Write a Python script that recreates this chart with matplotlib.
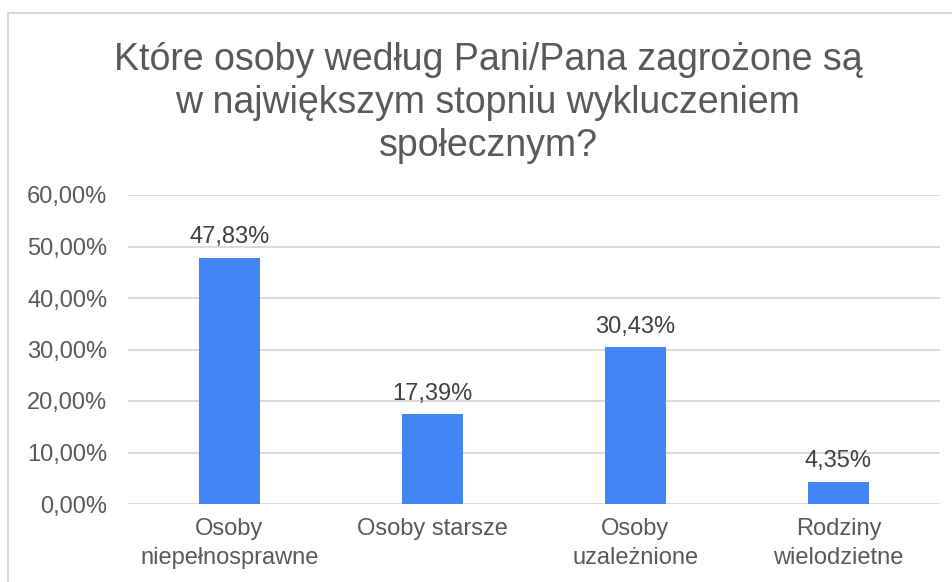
import matplotlib.pyplot as plt
from matplotlib.ticker import FuncFormatter
from matplotlib.lines import Line2D

plt.rcParams['font.family'] = ['Liberation Sans', 'DejaVu Sans']

categories = ['Osoby\nniepełnosprawne', 'Osoby starsze', 'Osoby\nuzależnione', 'Rodziny\nwielodzietne']
values = [47.83, 17.39, 30.43, 4.35]
yticks = [0, 10, 20, 30, 40, 50, 60]
title = 'Które osoby według Pani/Pana zagrożone są\nw największym stopniu wykluczeniem\nspołecznym?'

fig = plt.figure(figsize=(9.53, 5.82), dpi=100)
ax = fig.add_axes([128 / 953, 1 - 504 / 582, 812 / 953, 309 / 582])

x = range(len(categories))
ax.bar(x, values, width=0.305, color='#4285F4', zorder=3)
for i, v in enumerate(values):
    ax.annotate(f'{v:.2f}%'.replace('.', ','), (i, v), xytext=(0, 7),
                textcoords='offset points', ha='center', va='bottom',
                fontsize=17, color='#404040')

ax.set_xlim(-0.5, len(categories) - 0.5)
ax.set_ylim(0, 60)
ax.set_yticks(yticks)
ax.yaxis.set_major_formatter(FuncFormatter(lambda v, p: f'{v:.2f}%'.replace('.', ',')))
ax.set_xticks(list(x))
ax.set_xticklabels(categories, linespacing=1.4)
ax.tick_params(axis='both', length=0, labelsize=17, colors='#595959')
ax.tick_params(axis='y', pad=15)
ax.tick_params(axis='x', pad=10)
ax.grid(axis='y', color='#d9d9d9', linewidth=1.3, zorder=0)
for s in ax.spines.values():
    s.set_visible(False)

fig.text(488 / 953, 1 - 103 / 582, title, ha='center', va='center',
         fontsize=27, color='#595959', linespacing=1.26)

# chart frame (top and left edges)
fig.add_artist(Line2D([8 / 953, 1], [1 - 13 / 582] * 2, color='#d9d9d9', linewidth=1.5))
fig.add_artist(Line2D([8 / 953] * 2, [0, 1 - 13 / 582], color='#d9d9d9', linewidth=1.5))

fig.savefig('out.png', dpi=100)
